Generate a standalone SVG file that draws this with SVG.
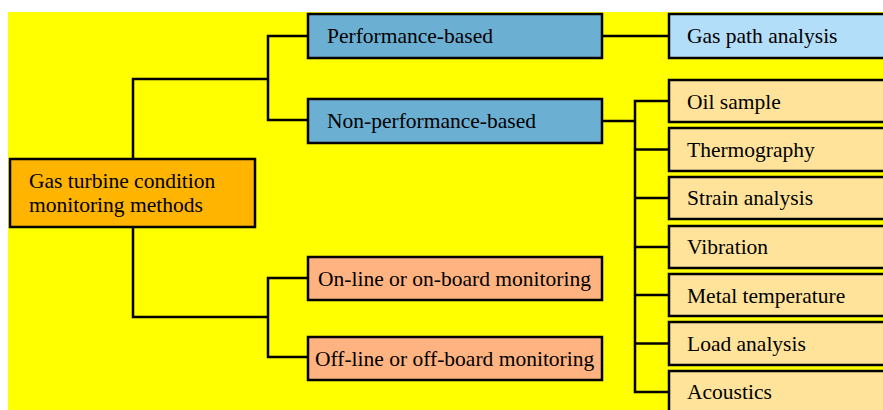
<svg xmlns="http://www.w3.org/2000/svg" width="883" height="410" viewBox="0 0 883 410">
<style>
.box{stroke:#000;stroke-width:2.5}
.root{fill:#FFB400}
.cat{fill:#6BAFD3}
.gp{fill:#B3DEFA}
.tan{fill:#FFE39A}
.mon{fill:#FFB380}
.t{font-family:"Liberation Serif","Times New Roman",serif;font-size:21.5px;fill:#000}
.c{fill:none;stroke:#000;stroke-width:2.5}
</style>
<rect x="0" y="0" width="883" height="410" fill="#fff"/>
<rect x="8" y="12" width="875" height="398" fill="#FFFF00"/>
<g id="connectors">
<polyline class="c" points="133,158 133,79 268,79"/>
<polyline class="c" points="307,36 268,36 268,120 307,120"/>
<polyline class="c" points="133,228 133,317 268,317"/>
<polyline class="c" points="307,278 268,278 268,357 307,357"/>
<line class="c" x1="603" y1="36" x2="668" y2="36"/>
<line class="c" x1="603" y1="121" x2="635" y2="121"/>
<polyline class="c" points="668,101 635,101 635,392 668,392"/>
<line class="c" x1="635" y1="149.5" x2="668" y2="149.5"/>
<line class="c" x1="635" y1="198" x2="668" y2="198"/>
<line class="c" x1="635" y1="247" x2="668" y2="247"/>
<line class="c" x1="635" y1="295" x2="668" y2="295"/>
<line class="c" x1="635" y1="343.5" x2="668" y2="343.5"/>
</g>
<g id="root">
<rect class="box root" x="10" y="159" width="245" height="68"/>
<text class="t" x="29" y="188">Gas turbine condition</text>
<text class="t" x="29" y="212">monitoring methods</text>
</g>
<g id="performance">
<rect class="box cat" x="308" y="14" width="294" height="44"/>
<text class="t" x="327" y="43">Performance-based</text>
</g>
<g id="nonperformance">
<rect class="box cat" x="308" y="99" width="294" height="44"/>
<text class="t" x="327" y="128">Non-performance-based</text>
</g>
<g id="online">
<rect class="box mon" x="308" y="257" width="294" height="43"/>
<text class="t" x="318" y="286">On-line or on-board monitoring</text>
</g>
<g id="offline">
<rect class="box mon" x="308" y="337" width="294" height="43"/>
<text class="t" x="315" y="366">Off-line or off-board monitoring</text>
</g>
<g id="gaspath">
<rect class="box gp" x="669" y="14" width="240" height="44"/>
<text class="t" x="687" y="43">Gas path analysis</text>
</g>
<g id="oil">
<rect class="box tan" x="669" y="80" width="240" height="42"/>
<text class="t" x="687" y="109">Oil sample</text>
</g>
<g id="thermo">
<rect class="box tan" x="669" y="128" width="240" height="43"/>
<text class="t" x="687" y="157">Thermography</text>
</g>
<g id="strain">
<rect class="box tan" x="669" y="177" width="240" height="42"/>
<text class="t" x="687" y="205">Strain analysis</text>
</g>
<g id="vibration">
<rect class="box tan" x="669" y="226" width="240" height="42"/>
<text class="t" x="687" y="254">Vibration</text>
</g>
<g id="metal">
<rect class="box tan" x="669" y="274" width="240" height="42"/>
<text class="t" x="687" y="303">Metal temperature</text>
</g>
<g id="load">
<rect class="box tan" x="669" y="322" width="240" height="43"/>
<text class="t" x="687" y="351">Load analysis</text>
</g>
<g id="acoustics">
<rect class="box tan" x="669" y="371" width="240" height="60"/>
<text class="t" x="687" y="399">Acoustics</text>
</g>
</svg>
